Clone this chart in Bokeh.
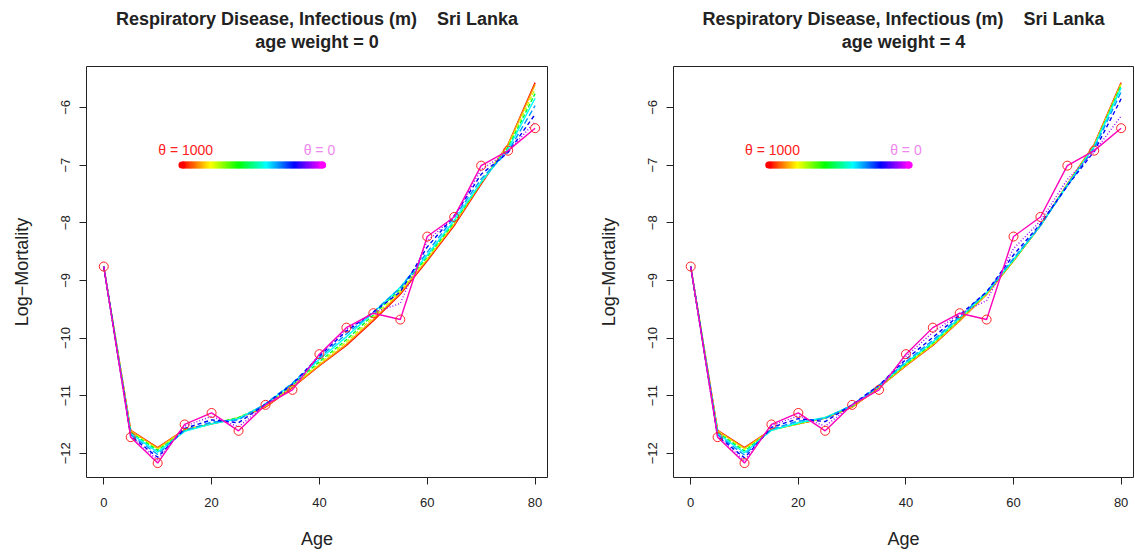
import colorsys
from bokeh.plotting import figure
from bokeh.layouts import row, column
from bokeh.models import Range1d, FixedTicker
from bokeh.core.properties import value
from bokeh.embed import file_html
from bokeh.resources import INLINE

ages = [0, 5, 10, 15, 20, 25, 30, 35, 40, 45, 50, 55, 60, 65, 70, 75, 80]
x_ticks = [0, 20, 40, 60, 80]
y_ticks = [-12, -11, -10, -9, -8, -7, -6]
y_tick_labels = ["\u221212", "\u221211", "\u221210", "\u22129", "\u22128", "\u22127", "\u22126"]

observed = [-8.76, -11.72, -12.17, -11.50, -11.30, -11.61, -11.16, -10.90, -10.28,
            -9.82, -9.57, -9.68, -8.24, -7.90, -7.01, -6.75, -6.36]

curve_colors = ["#FF0000", "#FF9900", "#CCFF00", "#00FF33", "#00FFFF", "#0099FF", "#0000FF", "#9900FF"]
curve_dashes = ["solid", "solid", "4 2", "4 2", "solid", "6 3", "4 3", "1 2"]
data_color = "#FF00BB"

# age weight = 0
left_curves = [
    [-8.76, -11.60, -11.90, -11.59, -11.49, -11.39, -11.20, -10.86, -10.48, -10.13, -9.70, -9.24, -8.66, -8.05, -7.33, -6.64, -5.57],
    [-8.76, -11.61, -11.91, -11.59, -11.49, -11.39, -11.19, -10.85, -10.47, -10.11, -9.68, -9.22, -8.64, -8.03, -7.31, -6.64, -5.60],
    [-8.76, -11.62, -11.93, -11.60, -11.49, -11.38, -11.18, -10.83, -10.44, -10.07, -9.64, -9.19, -8.62, -8.01, -7.30, -6.66, -5.68],
    [-8.76, -11.64, -11.95, -11.61, -11.49, -11.38, -11.16, -10.81, -10.41, -10.03, -9.60, -9.15, -8.59, -7.99, -7.30, -6.69, -5.76],
    [-8.76, -11.66, -11.98, -11.62, -11.49, -11.40, -11.15, -10.79, -10.37, -9.98, -9.56, -9.12, -8.56, -7.96, -7.29, -6.72, -5.84],
    [-8.76, -11.68, -12.02, -11.60, -11.46, -11.42, -11.14, -10.78, -10.34, -9.93, -9.55, -9.13, -8.51, -7.91, -7.24, -6.76, -5.97],
    [-8.76, -11.70, -12.07, -11.57, -11.42, -11.47, -11.15, -10.80, -10.31, -9.88, -9.55, -9.20, -8.42, -7.88, -7.16, -6.78, -6.12],
    [-8.76, -11.71, -12.12, -11.53, -11.36, -11.54, -11.16, -10.85, -10.29, -9.85, -9.56, -9.40, -8.32, -7.89, -7.08, -6.77, -6.25],
]

# age weight = 4
right_curves = [
    [-8.76, -11.60, -11.90, -11.59, -11.49, -11.39, -11.20, -10.86, -10.48, -10.13, -9.70, -9.24, -8.66, -8.05, -7.33, -6.64, -5.57],
    [-8.76, -11.61, -11.91, -11.59, -11.49, -11.39, -11.20, -10.86, -10.48, -10.12, -9.70, -9.24, -8.66, -8.05, -7.33, -6.65, -5.58],
    [-8.76, -11.62, -11.93, -11.60, -11.49, -11.38, -11.19, -10.85, -10.46, -10.11, -9.68, -9.23, -8.66, -8.05, -7.34, -6.66, -5.60],
    [-8.76, -11.64, -11.96, -11.60, -11.48, -11.38, -11.18, -10.84, -10.45, -10.09, -9.67, -9.22, -8.65, -8.05, -7.34, -6.67, -5.62],
    [-8.76, -11.66, -11.99, -11.60, -11.47, -11.38, -11.17, -10.83, -10.43, -10.07, -9.65, -9.21, -8.64, -8.05, -7.35, -6.68, -5.66],
    [-8.76, -11.68, -12.03, -11.58, -11.44, -11.40, -11.16, -10.82, -10.41, -10.04, -9.63, -9.20, -8.62, -8.05, -7.36, -6.71, -5.73],
    [-8.76, -11.70, -12.08, -11.55, -11.40, -11.45, -11.16, -10.82, -10.37, -9.99, -9.60, -9.20, -8.56, -8.02, -7.36, -6.76, -5.85],
    [-8.76, -11.71, -12.13, -11.52, -11.35, -11.53, -11.16, -10.85, -10.32, -9.90, -9.58, -9.35, -8.45, -7.97, -7.25, -6.77, -6.15],
]

title_line1 = "Respiratory Disease, Infectious (m)\u00a0\u00a0\u00a0\u00a0Sri Lanka"
legend_hi = "\u03b8 = 1000"
legend_lo = "\u03b8 = 0"

FONT = "Liberation Sans"
FONT_VAL = value(FONT)
TITLE_H = 65
X_LO, X_HI = -3.2, 82.3


def make_title(subtitle, width):
    t = figure(width=width, height=TITLE_H, x_range=Range1d(X_LO, X_HI), y_range=Range1d(0, TITLE_H),
               output_backend="svg", toolbar_location=None, x_axis_location=None, y_axis_location=None,
               min_border=0, min_border_left=0, min_border_right=0, min_border_top=0, min_border_bottom=0)
    t.title.visible = False
    t.xgrid.visible = False
    t.ygrid.visible = False
    t.outline_line_color = None
    xc = (X_LO + X_HI) / 2.0
    t.text([xc, xc], [TITLE_H - 18, TITLE_H - 41], text=[title_line1, subtitle],
           text_align="center", text_baseline="middle", text_font=FONT_VAL, text_font_size="18px",
           text_font_style="bold", text_color="#222222")
    return t


def make_panel(curves, width, b_left, b_right):
    p = figure(width=width, height=554 - TITLE_H, x_range=Range1d(X_LO, X_HI), y_range=Range1d(-12.42, -5.29),
               output_backend="svg", toolbar_location=None,
               min_border_left=b_left, min_border_right=b_right, min_border_top=1, min_border_bottom=77)
    p.title.visible = False
    p.xgrid.visible = False
    p.ygrid.visible = False
    p.outline_line_color = "#222222"
    p.outline_line_width = 1
    p.background_fill_color = "white"
    p.border_fill_color = "white"

    for ax in (p.xaxis[0], p.yaxis[0]):
        ax.axis_line_color = None
        ax.minor_tick_line_color = None
        ax.major_tick_out = 7
        ax.major_tick_in = 0
        ax.major_tick_line_color = "#222222"
        ax.major_label_text_font = FONT
        ax.major_label_text_font_size = "13px"
        ax.major_label_text_color = "#222222"
        ax.axis_label_text_font = FONT
        ax.axis_label_text_font_size = "18px"
        ax.axis_label_text_font_style = "normal"
        ax.axis_label_text_color = "#222222"
    p.xaxis.ticker = FixedTicker(ticks=x_ticks)
    p.yaxis.ticker = FixedTicker(ticks=y_ticks)
    p.yaxis.major_label_overrides = {float(t): s for t, s in zip(y_ticks, y_tick_labels)}
    p.yaxis.major_label_orientation = "vertical"
    p.xaxis.axis_label = "Age"
    p.yaxis.axis_label = "Log\u2212Mortality"
    p.xaxis.major_label_standoff = 13
    p.yaxis.major_label_standoff = 9
    p.xaxis.axis_label_standoff = 19
    p.yaxis.axis_label_standoff = 27

    for vals, col, dash in zip(curves, curve_colors, curve_dashes):
        p.line(ages, vals, line_color=col, line_width=1.4, line_dash=dash)
    p.line(ages, observed, line_color=data_color, line_width=1.4)
    p.scatter(ages, observed, marker="circle", size=9, fill_color=None, line_color="#FF2222", line_width=1)

    # legend colour bar
    n = 120
    x0, x1, yb, hh = 14.5, 40.6, -7.0, 0.06
    lefts, rights, cols = [], [], []
    for i in range(n):
        h = (300.0 / 360.0) * i / (n - 1)
        r, g, b = colorsys.hsv_to_rgb(h, 1, 1)
        cols.append("#%02x%02x%02x" % (int(r * 255), int(g * 255), int(b * 255)))
        lefts.append(x0 + (x1 - x0) * i / n)
        rights.append(x0 + (x1 - x0) * (i + 1.6) / n)
    p.quad(left=lefts, right=rights, bottom=[yb - hh] * n, top=[yb + hh] * n,
           fill_color=cols, line_color=None)
    p.scatter([x0, x1], [yb, yb], size=7, marker="circle", fill_color=[cols[0], cols[-1]], line_color=None)
    p.text([15.2], [-6.73], text=[legend_hi], text_color="#FF2020", text_font_size="14px",
           text_align="center", text_baseline="middle", text_font=FONT_VAL)
    p.text([40.0], [-6.73], text=[legend_lo], text_color="#EE88EE", text_font_size="14px",
           text_align="center", text_baseline="middle", text_font=FONT_VAL)
    return p


left = column(make_title("age weight = 0", 567), make_panel(left_curves, 567, 86, 20), spacing=0)
right = column(make_title("age weight = 4", 568), make_panel(right_curves, 568, 106, 2), spacing=0)
layout = row(left, right, spacing=0)
open("out.html", "w").write(file_html(layout, INLINE))
